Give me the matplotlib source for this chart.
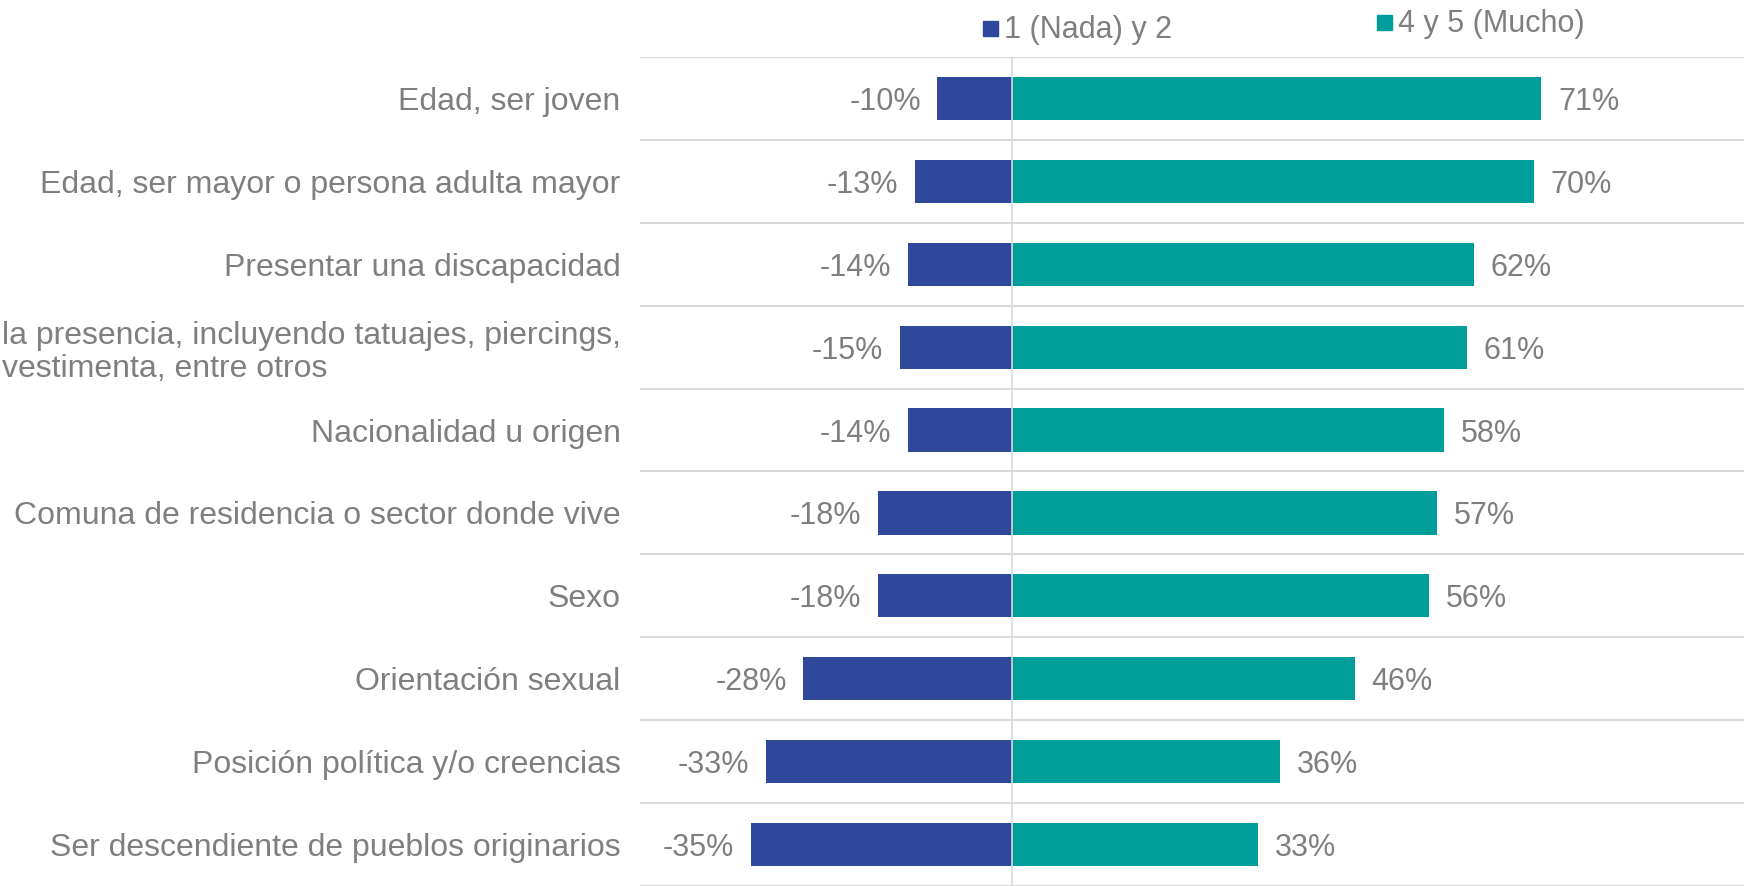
import matplotlib
matplotlib.use('Agg')
import matplotlib.pyplot as plt
from matplotlib.patches import Rectangle

plt.rcParams['font.family'] = ['Liberation Sans', 'DejaVu Sans']

# datos
categorias = [
    'Edad, ser joven',
    'Edad, ser mayor o persona adulta mayor',
    'Presentar una discapacidad',
    'la presencia, incluyendo tatuajes, piercings,\nvestimenta, entre otros',
    'Nacionalidad u origen',
    'Comuna de residencia o sector donde vive',
    'Sexo',
    'Orientación sexual',
    'Posición política y/o creencias',
    'Ser descendiente de pueblos originarios',
]
nada = [-10, -13, -14, -15, -14, -18, -18, -28, -33, -35]
mucho = [71, 70, 62, 61, 58, 57, 56, 46, 36, 33]
series = ['1 (Nada) y 2', '4 y 5 (Mucho)']

AZUL = '#2f489c'
VERDE = '#009e9a'
GRIS = '#7f7f7f'
LINEA = '#d9d9d9'

W, H = 1744, 886
fig = plt.figure(figsize=(W / 100, H / 100), dpi=100)
ax = fig.add_axes([640 / W, 0, 1 - 640 / W, (H - 57) / H])

y = list(range(len(categorias)))
ax.barh(y, nada, height=0.52, color=AZUL, zorder=2)
ax.barh(y, mucho, height=0.52, color=VERDE, zorder=2)

# etiquetas de valor
for yi, v in zip(y, nada):
    ax.annotate(f'{v}%', (v, yi), xytext=(-12, 0), textcoords='offset points',
                ha='right', va='center_baseline', fontsize=22, color=GRIS)
for yi, v in zip(y, mucho):
    ax.annotate(f'{v}%', (v, yi), xytext=(12, 0), textcoords='offset points',
                ha='left', va='center_baseline', fontsize=22, color=GRIS)

ax.set_xlim(-49.9, 98.2)
ax.set_ylim(len(categorias) - 0.5, -0.5)
ax.set_xticks([])
ax.set_yticks(y)
ax.set_yticklabels(categorias, fontsize=23, color=GRIS)
for t in ax.get_yticklabels():
    t.set_multialignment('left')
    t.set_linespacing(1.15)
ax.tick_params(axis='y', length=0, pad=14)
ax.set_yticks([i - 0.5 for i in range(len(categorias) + 1)], minor=True)
ax.tick_params(axis='y', which='minor', length=0)
ax.grid(axis='y', which='minor', color=LINEA, lw=1.5, zorder=0)
ax.axvline(0, color=LINEA, lw=1.2, zorder=3)
for s in ax.spines.values():
    s.set_visible(False)

# leyenda
colores = [AZUL, VERDE]
pos = [(983, 28), (1377, 22)]
for (px, py), c, txt in zip(pos, colores, series):
    fig.add_artist(Rectangle((px / W, 1 - (py + 7.5) / H), 15 / W, 15 / H,
                             transform=fig.transFigure, color=c))
    fig.text((px + 21) / W, 1 - (py + 2) / H, txt, fontsize=22, color=GRIS,
             ha='left', va='center')

fig.savefig('out.png', dpi=100, facecolor='white')
plt.close(fig)
